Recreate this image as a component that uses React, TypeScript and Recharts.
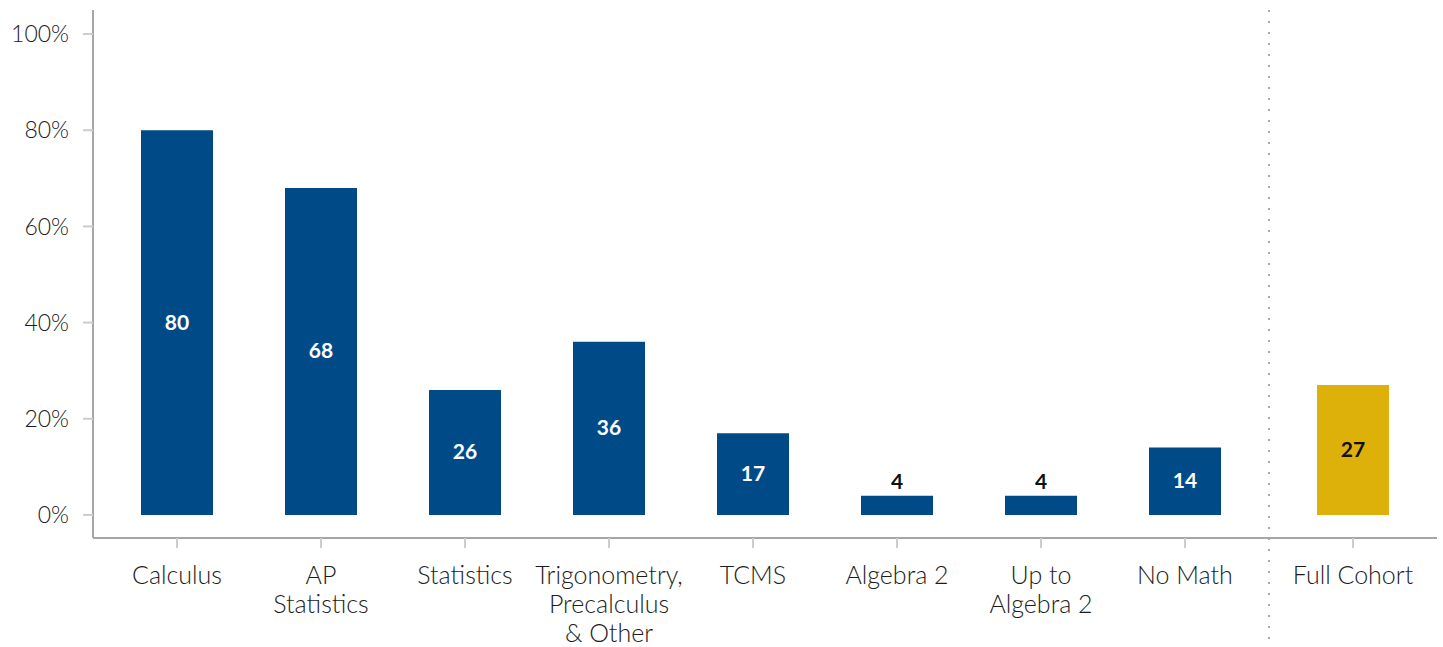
import React from "react";
import {
  BarChart,
  Bar,
  XAxis,
  YAxis,
  Cell,
  LabelList,
  ReferenceLine,
} from "recharts";

const categories = [
  "Calculus",
  "AP Statistics",
  "Statistics",
  "Trigonometry, Precalculus & Other",
  "TCMS",
  "Algebra 2",
  "Up to Algebra 2",
  "No Math",
  "Full Cohort",
];
// tick labels, one entry per line
const tickLines = [
  ["Calculus"],
  ["AP", "Statistics"],
  ["Statistics"],
  ["Trigonometry,", "Precalculus", "& Other"],
  ["TCMS"],
  ["Algebra 2"],
  ["Up to", "Algebra 2"],
  ["No Math"],
  ["Full Cohort"],
];
const values = [80, 68, 26, 36, 17, 4, 4, 14, 27];
const yTicks = [0, 20, 40, 60, 80, 100];

const BLUE = "#004b87";
const GOLD = "#deb00a";
const TEXT = "#1c1c1c";
const FONT = "Lato, 'Open Sans', sans-serif";

// the full cohort bar sits a little apart from the course groups
const GROUP_GAP = 1 / 6;
const EDGE = 7 / 12;
const lastIdx = categories.length - 1;
const positions = categories.map((_, i) => i + (i === lastIdx ? GROUP_GAP : 0));
const dividerX = (positions[lastIdx - 1] + positions[lastIdx]) / 2;

const data = categories.map((name, i) => ({
  name,
  pos: positions[i],
  value: values[i],
}));

const XTick = (props: any) => {
  const { x, y, payload } = props;
  const idx = positions.findIndex((p) => Math.abs(p - payload.value) < 1e-6);
  const lines = idx >= 0 ? tickLines[idx] : [];
  return (
    <text
      x={x}
      y={y}
      textAnchor="middle"
      fill={TEXT}
      fontFamily={FONT}
      fontWeight={300}
      fontSize={25}
    >
      {lines.map((l, i) => (
        <tspan key={i} x={x} dy={i === 0 ? 36 : 29}>
          {l}
        </tspan>
      ))}
    </text>
  );
};

const BarLabel = (props: any) => {
  const { x, y, width, height, value, index } = props;
  const cx = x + width / 2;
  const small = value < 10;
  const isCohort = index === lastIdx;
  const ty = small ? y - 7 : y + height / 2 + 7;
  return (
    <text
      x={cx}
      y={ty}
      textAnchor="middle"
      fontFamily={FONT}
      fontWeight={700}
      fontSize={21}
      fill={small || isCohort ? "#111" : "#fff"}
    >
      {value}
    </text>
  );
};

const Divider = (props: any) => {
  const { x1, y1, y2 } = props;
  const top = Math.min(y1, y2);
  const bottom = Math.max(y1, y2);
  return (
    <line
      x1={x1}
      x2={x1}
      y1={top}
      y2={bottom + 102}
      stroke="#a8a8a8"
      strokeWidth={2}
      strokeDasharray="2 9"
    />
  );
};

export default function App() {
  return (
    <div style={{ position: "absolute", left: 0, top: 0, background: "#fff" }}>
      <BarChart
        width={1443}
        height={647}
        data={data}
        margin={{ top: 10, right: 6, bottom: 0, left: 0 }}
      >
        <XAxis
          type="number"
          dataKey="pos"
          domain={[-EDGE, positions[lastIdx] + EDGE]}
          ticks={positions}
          allowDecimals
          height={109}
          tickSize={10}
          tickMargin={0}
          tickLine={{ stroke: "#cccccc", strokeWidth: 2 }}
          axisLine={{ stroke: "#a6a6a6", strokeWidth: 2 }}
          tick={<XTick />}
        />
        <YAxis
          type="number"
          domain={[-4.8, 105]}
          ticks={yTicks}
          width={93}
          tickSize={10}
          tickMargin={14}
          tickLine={{ stroke: "#cccccc", strokeWidth: 2 }}
          axisLine={{ stroke: "#a6a6a6", strokeWidth: 2 }}
          tickFormatter={(v: number) => `${v}%`}
          tick={{ fill: TEXT, fontSize: 23, fontFamily: FONT, fontWeight: 300 }}
        />
        <ReferenceLine x={dividerX} shape={<Divider />} />
        <Bar dataKey="value" barSize={72} isAnimationActive={false}>
          {data.map((d, i) => (
            <Cell key={d.name} fill={i === lastIdx ? GOLD : BLUE} />
          ))}
          <LabelList dataKey="value" content={<BarLabel />} />
        </Bar>
      </BarChart>
    </div>
  );
}
